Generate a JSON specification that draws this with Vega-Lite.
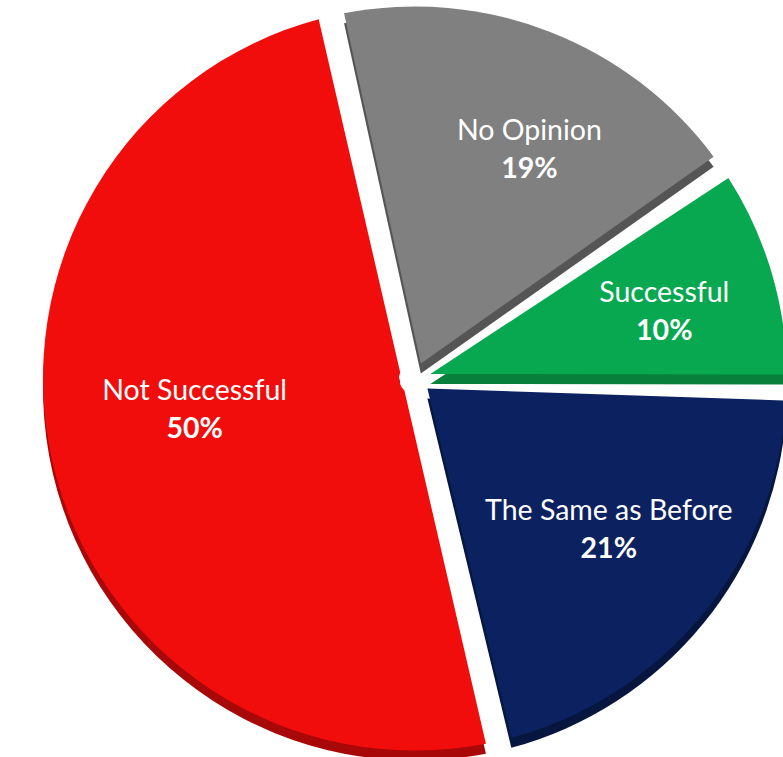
{
  "$schema": "https://vega.github.io/schema/vega-lite/v6.json",
  "width": 783,
  "height": 757,
  "autosize": {"type": "fit", "contains": "padding"},
  "padding": 0,
  "background": "white",
  "config": {"view": {"stroke": null}},
  "data": {
    "values": [
      {"category": "No Opinion", "value": 19, "label": "19%", "order": 1},
      {"category": "Successful", "value": 10, "label": "10%", "order": 2},
      {"category": "The Same as Before", "value": 21, "label": "21%", "order": 3},
      {"category": "Not Successful", "value": 50, "label": "50%", "order": 4}
    ]
  },
  "encoding": {
    "theta": {"field": "value", "type": "quantitative", "stack": true, "scale": {"range": [-0.2269, 6.0563]}},
    "order": {"field": "order", "type": "quantitative"}
  },
  "layer": [
    {
      "mark": {"type": "arc", "radius": 372, "radius2": 16, "padAngle": 0.07, "xOffset": 28, "yOffset": 14},
      "encoding": {
        "color": {"field": "category", "type": "nominal", "legend": null,
          "scale": {"domain": ["No Opinion", "Successful", "The Same as Before", "Not Successful"],
                    "range": ["#555555", "#08803c", "#06163f", "#a80808"]}}
      }
    },
    {
      "mark": {"type": "arc", "radius": 372, "radius2": 16, "padAngle": 0.07, "xOffset": 28, "yOffset": 4},
      "encoding": {
        "color": {"field": "category", "type": "nominal", "legend": null,
          "scale": {"domain": ["No Opinion", "Successful", "The Same as Before", "Not Successful"],
                    "range": ["#808080", "#07a84f", "#0c2260", "#f20d0d"]}}
      }
    },
    {
      "mark": {"type": "text", "radius": 240, "xOffset": 44, "yOffset": -6, "dy": -19, "font": "Lato", "fontSize": 28.5, "color": "white"},
      "encoding": {
        "theta": {"field": "value", "type": "quantitative", "stack": true, "scale": {"range": [-0.1745, 6.1087]}},
        "text": {"field": "category"}
      }
    },
    {
      "mark": {"type": "text", "radius": 240, "xOffset": 44, "yOffset": -6, "dy": 19, "font": "Lato", "fontSize": 28.5, "fontWeight": "bold", "color": "white"},
      "encoding": {
        "theta": {"field": "value", "type": "quantitative", "stack": true, "scale": {"range": [-0.1745, 6.1087]}},
        "text": {"field": "label"}
      }
    }
  ],
  "resolve": {"scale": {"color": "independent", "theta": "independent"}}
}
